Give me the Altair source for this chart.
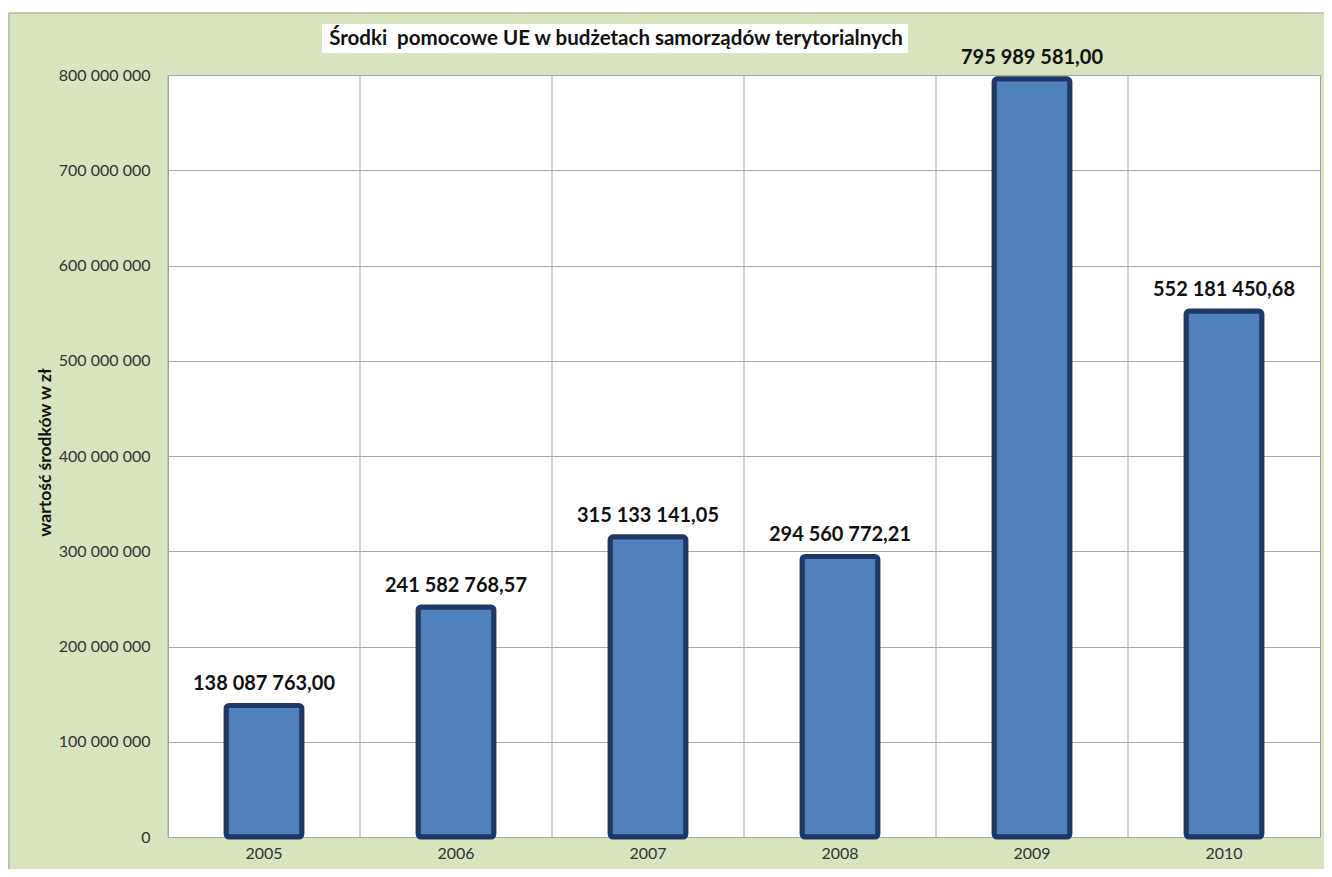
import altair as alt
import pandas as pd

years = ["2005", "2006", "2007", "2008", "2009", "2010"]
values = [138087763.00, 241582768.57, 315133141.05, 294560772.21, 795989581.00, 552181450.68]
y_ticks = [0, 100000000, 200000000, 300000000, 400000000, 500000000, 600000000, 700000000, 800000000]
title_text = "Środki\u00a0 pomocowe UE w budżetach samorządów terytorialnych"
y_title = "wartość środków w zł"


def pl_format(v):
    return f"{v:,.2f}".replace(",", " ").replace(".", ",")


df = pd.DataFrame({"year": years, "value": values, "label": [pl_format(v) for v in values]})

FONT = "Lato"
W, H = 1152, 762

x_enc = alt.X("year:N", title=None, sort=years,
              scale=alt.Scale(paddingInner=0, paddingOuter=0),
              axis=alt.Axis(labelFont=FONT, labelFontSize=16, labelColor="#333333",
                            labelPadding=16, ticks=False, domain=False, grid=False,
                            labelAngle=0, bandPosition=0.5, labelAlign="center"))
y_enc = alt.Y("value:Q", title=y_title,
              scale=alt.Scale(domain=[0, 800000000], nice=False),
              axis=alt.Axis(values=y_ticks,
                            labelExpr="replace(format(datum.value, ','), regexp(',', 'g'), ' ')",
                            labelFont=FONT, labelFontSize=16, labelColor="#333333",
                            labelPadding=18, ticks=False, domain=False,
                            grid=True, gridColor="#a6a6a6", gridWidth=1,
                            titleFont=FONT, titleFontSize=17.5, titleFontWeight="bold",
                            titleColor="#111111", titleAngle=-90,
                            titleX=-118, titleY=377, titleAlign="center",
                            titleBaseline="alphabetic"))

base = alt.Chart(df)

deco_df = pd.DataFrame({"t": [title_text]})

# outer chart frame (gray border) and white page strip above it
frame = alt.Chart(deco_df).mark_rect(fillOpacity=0, stroke="#a0a0a0", strokeWidth=1).encode(
    x=alt.value(-159), x2=alt.value(1170), y=alt.value(-62), y2=alt.value(820),
)
top_strip = alt.Chart(deco_df).mark_rect(color="white").encode(
    x=alt.value(-170), x2=alt.value(1170), y=alt.value(-70), y2=alt.value(-62.5),
)

vgrid = base.mark_rule(color="#a6a6a6", strokeWidth=1).encode(
    x=alt.X("year:N", sort=years, bandPosition=0),
)

bars = base.mark_bar(color="#4F81BD", stroke="#1F3864", strokeWidth=5,
                     cornerRadius=3, width=alt.RelativeBandSize(0.395)).encode(
    x=x_enc, y=y_enc,
)

labels = base.mark_text(font=FONT, fontSize=20, fontWeight="bold", color="#111111",
                        baseline="alphabetic", dy=-15).encode(
    x=alt.X("year:N", sort=years),
    y="value:Q",
    text="label:N",
)

title_box = alt.Chart(deco_df).mark_rect(color="white").encode(
    x=alt.value(154), x2=alt.value(740), y=alt.value(-51), y2=alt.value(-22),
)
title_mark = alt.Chart(deco_df).mark_text(font=FONT, fontSize=20.5, fontWeight="bold",
                                          color="#111111", baseline="middle",
                                          align="center").encode(
    x=alt.value(448), y=alt.value(-36), text="t:N",
)

chart = alt.layer(top_strip, frame, vgrid, bars, labels, title_box, title_mark).properties(
    width=W, height=H,
    autosize=alt.AutoSizeParams(type="none"),
    padding={"left": 160, "top": 67, "right": 4, "bottom": 32},
    background="#D7E4BD",
).configure_view(
    fill="white", stroke="#a0a0a0", strokeWidth=1,
)

chart.save("out.html", embed_options={"renderer": "svg", "actions": False})
